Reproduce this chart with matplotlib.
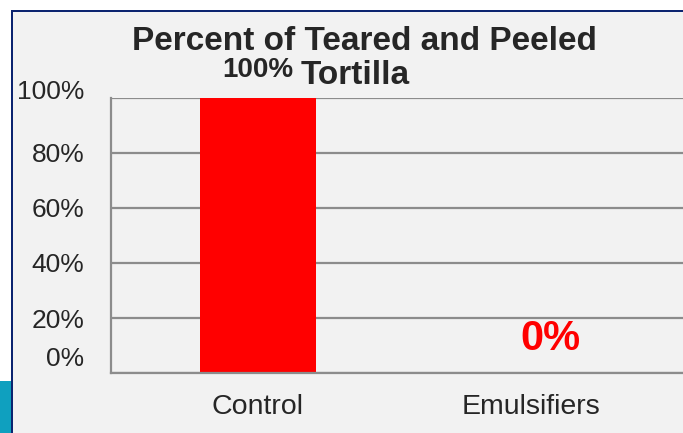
import matplotlib.pyplot as plt
import matplotlib.transforms as mtransforms
from matplotlib.patches import Rectangle

# данные
categories = ["Control", "Emulsifiers"]
percent_torn = [100, 0]
y_ticks = [0, 20, 40, 60, 80, 100]
y_tick_labels = ["0%", "20%", "40%", "60%", "80%", "100%"]

plt.rcParams["font.family"] = ["Liberation Sans", "DejaVu Sans"]

fig = plt.figure(figsize=(6.83, 4.33), dpi=100, facecolor="white")

# фон слайда с рамкой
fig.patches.append(Rectangle((11 / 683, 0), 1, 1 - 11 / 433, transform=fig.transFigure,
                             facecolor="#f2f2f2", edgecolor="none", zorder=-3))
fig.patches.append(Rectangle((11 / 683, 1 - 12 / 433), 1, 2.5 / 433, transform=fig.transFigure,
                             facecolor="#0c2470", edgecolor="none", zorder=-2))
fig.patches.append(Rectangle((10.5 / 683, 0), 2.5 / 683, 1 - 10 / 433, transform=fig.transFigure,
                             facecolor="#0c2470", edgecolor="none", zorder=-2))
fig.patches.append(Rectangle((0, 0), 10.5 / 683, 52 / 433, transform=fig.transFigure,
                             facecolor="#0fa0bf", edgecolor="none", zorder=-2))

ax = fig.add_axes([111 / 683, 60 / 433, 572 / 683, 275 / 433])
ax.set_facecolor("none")

x = list(range(len(categories)))
ax.bar(x, percent_torn, width=0.425, color="#ff0000", zorder=2)

ax.set_xlim(-0.538, 1.557)
ax.set_ylim(0, 100)
ax.set_yticks(y_ticks)
ax.set_yticklabels(y_tick_labels)
ax.set_xticks(x)
ax.set_xticklabels(categories)
ax.tick_params(axis="both", length=0, colors="#262626")
ax.tick_params(axis="y", labelsize=19, pad=19)
ax.tick_params(axis="x", labelsize=20.5, pad=15)
ax.grid(axis="y", color="#8c8c8c", linewidth=1.6, zorder=1)
ax.set_axisbelow(True)

for side in ["top", "right"]:
    ax.spines[side].set_visible(False)
ax.spines["left"].set_color("#8c8c8c")
ax.spines["bottom"].set_color("#8c8c8c")
ax.spines["left"].set_linewidth(1.6)
ax.spines["bottom"].set_linewidth(1.6)

# подписи 0% и 100% сдвинуты вверх
for lbl, dy in zip(ax.get_yticklabels(), [16, 0, 0, 0, 0, 8]):
    lbl.set_transform(lbl.get_transform() + mtransforms.ScaledTranslation(0, dy / 100, fig.dpi_scale_trans))

# подписи значений
ax.text(x[0], percent_torn[0] + 10.2, f"{percent_torn[0]}%", ha="center", va="center",
        fontsize=20, fontweight="bold", color="#262626", zorder=3)
ax.text(x[1] + 0.07, percent_torn[1] + 12.4, f"{percent_torn[1]}%", ha="center", va="center",
        fontsize=30, fontweight="bold", color="#ff0000")

fig.text(364 / 683, 1 - 42 / 433, "Percent of Teared and Peeled", ha="center", va="center",
         fontsize=24, fontweight="bold", color="#262626")
fig.text(355 / 683, 1 - 76 / 433, "Tortilla", ha="center", va="center",
         fontsize=24, fontweight="bold", color="#262626")

fig.savefig("out.png", dpi=100, facecolor=fig.get_facecolor())
